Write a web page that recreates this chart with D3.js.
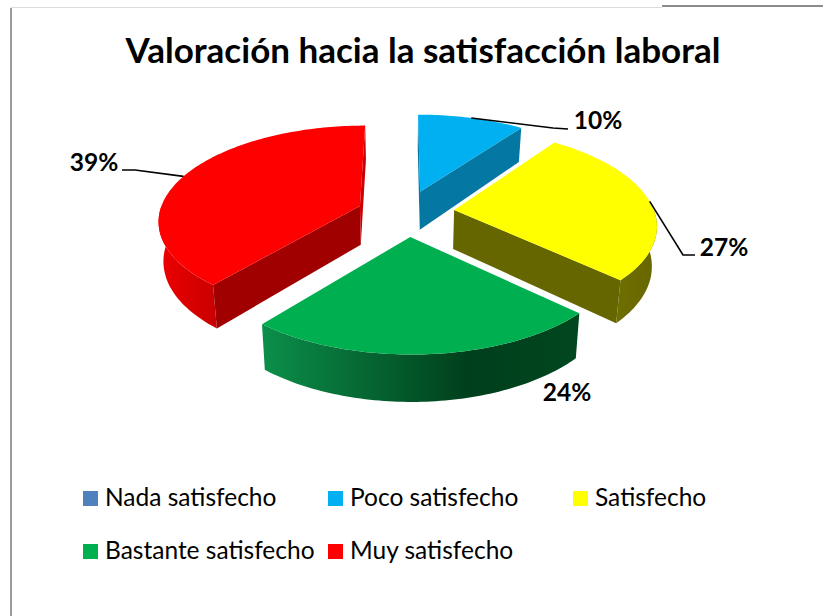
<!DOCTYPE html>
<html><head><meta charset="utf-8">
<script src="https://cdn.jsdelivr.net/npm/d3@7"></script>
<style>html,body{margin:0;padding:0;background:#fff}svg{display:block}text{font-family:Lato,"Open Sans",sans-serif;fill:#000}</style>
</head><body><div id="chart"></div>
<script>
const title = "Valoración hacia la satisfacción laboral";
const categories = ["Nada satisfecho","Poco satisfecho","Satisfecho","Bastante satisfecho","Muy satisfecho"];
const values = [0,10,27,24,39];
const topColors = ["#4f81bd","#00b0f0","#ffff00","#00b050","#ff0000"];
const faceColors = ["#3a6494","#0577a3","#666600","#00602c","#a00000"];
// exploded offset of each slice on the pie plane
const explodeU = [0,0.088,0.256,0.035,-0.217];
const explodeV = [0,-0.212,-0.011,0.269,-0.054];
const drawOrder = [0,1,4,2,3];

const W=823,H=616,cx=403,cy=211,A=200,B=93,kx=0.14,ky=0.14,depth=39,bottomShrink=0.98;
const svg=d3.select("#chart").append("svg").attr("width",W).attr("height",H);
const defs=svg.append("defs");
function grad(id,stops){const g=defs.append("linearGradient").attr("id",id).attr("x1",0).attr("x2",1).attr("y1",0).attr("y2",0);
  stops.forEach(s=>g.append("stop").attr("offset",s[0]).attr("stop-color",s[1]));}
grad("wall3",[[0,"#0b8f4a"],[0.3,"#066a34"],[0.65,"#003f1c"],[1,"#00471f"]]);
grad("wall4",[[0,"#ee0000"],[1,"#c80000"]]);
grad("wall2",[[0,"#6f6e00"],[1,"#666600"]]);

// frame
svg.append("line").attr("x1",11).attr("x2",662).attr("y1",7.5).attr("y2",7.5).attr("stroke","#dcdcdc").attr("stroke-width",1);
svg.append("line").attr("x1",11).attr("x2",11).attr("y1",8).attr("y2",H).attr("stroke","#9c9c9c").attr("stroke-width",2);
svg.append("line").attr("x1",662).attr("x2",W).attr("y1",6).attr("y2",6).attr("stroke","#8c8c8c").attr("stroke-width",2);

const xScale=d3.scaleLinear().domain([0,1]).range([cx,cx+A]);
const yScale=d3.scaleLinear().domain([0,1]).range([cy,cy+B]);
function project(u,v,low){
  const sx=1/(1-kx*v), sy=1/(1-ky*v);
  const x=xScale(u*sx), y=yScale(v*sy);
  return low?[cx+(x-cx)*bottomShrink,y+depth*sy]:[x,y];
}
const pie=d3.pie().sort(null).value(d=>d)(values);
const line=d3.line();
function rim(i,a){return [explodeU[i]+Math.sin(a),explodeV[i]-Math.cos(a)];}
function apex(i){return [explodeU[i],explodeV[i]];}
function arcSteps(a0,a1){const n=Math.max(2,Math.ceil((a1-a0)/0.02));return d3.range(n+1).map(j=>a0+(a1-a0)*j/n);}
const eps=1e-6;
const plate=svg.append("g");
drawOrder.forEach(i=>{
  const p=pie[i]; if(p.value===0) return;
  const g=plate.append("g");
  const at=project(...apex(i)), ab=project(...apex(i),true);
  // curved outer wall: only the part on the near half of the pie
  const w0=Math.max(p.startAngle,Math.PI/2), w1=Math.min(p.endAngle,Math.PI*1.5);
  if(w1>w0){
    const st=arcSteps(w0,w1);
    const wt=st.map(a=>project(...rim(i,a))), wb=st.map(a=>project(...rim(i,a),true));
    g.append("path").attr("d",line(wt.concat(wb.reverse()))+"Z").attr("fill",`url(#wall${i})`);
  }
  // radial walls that face the viewer
  if(Math.sin(p.startAngle)<=eps){
    const t=project(...rim(i,p.startAngle)), b=project(...rim(i,p.startAngle),true);
    g.append("path").attr("d",line([at,t,b,ab])+"Z").attr("fill",faceColors[i]);
  }
  if(Math.sin(p.endAngle)>=-eps){
    const t=project(...rim(i,p.endAngle)), b=project(...rim(i,p.endAngle),true);
    g.append("path").attr("d",line([at,t,b,ab])+"Z").attr("fill",i===4?"#cc0000":faceColors[i]);
  }
  const tp=arcSteps(p.startAngle,p.endAngle).map(a=>project(...rim(i,a)));
  g.append("path").attr("d",line([at].concat(tp))+"Z").attr("fill",topColors[i]);
});

svg.append("text").attr("x",423).attr("y",63).attr("text-anchor","middle").attr("font-size",35).attr("font-weight",700).text(title);

// data labels
const labelPos={1:[598,129],2:[724,256],3:[567,401],4:[94,171]};
const leaderKnots={1:[[553,128],[568,129]],2:[[683,255],[695,255]],4:[[135,170],[122,170]]};
pie.forEach((p,i)=>{
  if(!labelPos[i]) return;
  svg.append("text").attr("x",labelPos[i][0]).attr("y",labelPos[i][1]).attr("text-anchor","middle").attr("font-size",24.5).attr("font-weight",700).text(values[i]+"%");
  if(leaderKnots[i]){
    const m=(p.startAngle+p.endAngle)/2;
    const pts=[project(...rim(i,m))].concat(leaderKnots[i]);
    svg.append("path").attr("d",line(pts)).attr("fill","none").attr("stroke","#000").attr("stroke-width",1.6);
  }
});

// legend
const legX=[83,328,573,83,328], legY=[491,491,491,544,544];
const leg=svg.append("g");
categories.forEach((c,i)=>{
  leg.append("rect").attr("x",legX[i]).attr("y",legY[i]).attr("width",15).attr("height",15).attr("fill",topColors[i]);
  leg.append("text").attr("x",legX[i]+22).attr("y",legY[i]+15).attr("font-size",24.5).text(c);
});
</script></body></html>
